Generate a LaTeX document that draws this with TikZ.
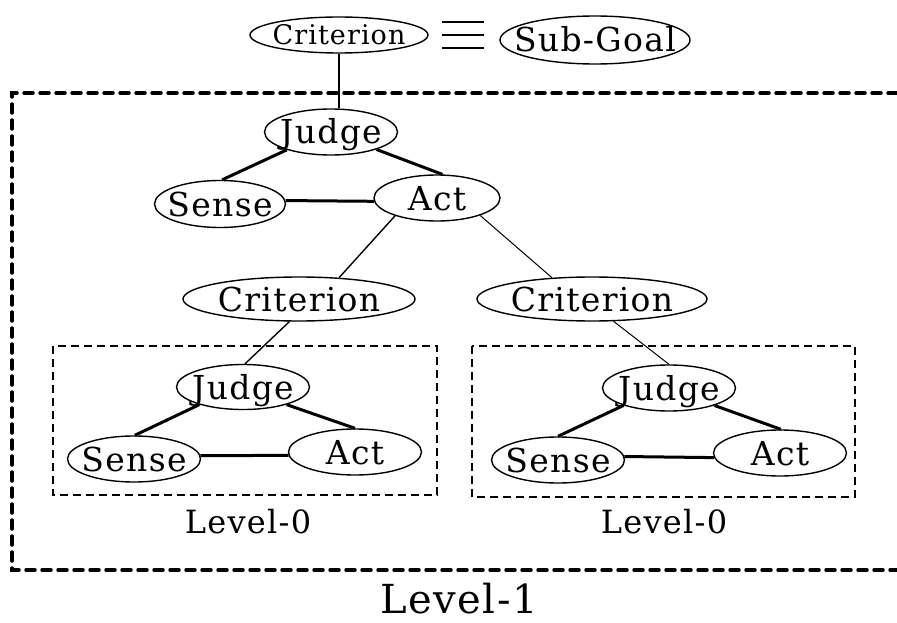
\documentclass[tikz,border=0pt]{standalone}
\usepackage{fontspec}
\setmainfont[LetterSpace=4]{DejaVu Serif}
\usetikzlibrary{shapes.geometric}
\newcommand{\ntxt}[1]{\makebox[0pt]{#1}}
\tikzset{
  ell/.style={ellipse, draw, line width=1.4pt, inner sep=0pt, text depth=0pt},
  nbig/.style={ell, minimum width=133pt, minimum height=46pt, text height=24pt, font=\fontsize{33}{33}\selectfont},
  thick edge/.style={line width=3pt},
  thin edge/.style={line width=1.4pt},
  hair edge/.style={line width=1pt},
  outerbox/.style={line width=3.5pt, dash pattern=on 9pt off 7pt, line cap=round},
  innerbox/.style={line width=2.6pt, dash pattern=on 8pt off 5pt},
  levlabel/.style={font=\fontsize{32}{32}\selectfont}
}
\begin{document}
\begin{tikzpicture}[x=1pt,y=-1pt]
\useasboundingbox (0,0) rectangle (897,623);
% top
\node[ell, minimum width=178pt, minimum height=36pt, text height=19.7pt, font=\fontsize{27}{27}\selectfont] (crit0) at (339,35) {\ntxt{Criterion}};
\node[ell, minimum width=190pt, minimum height=48pt, text height=24pt, font=\fontsize{33}{33}\selectfont] (subgoal) at (595,40) {\ntxt{Sub-Goal}};
\draw[line width=1.2pt] (442,22) -- (484,22) (442,35) -- (484,35) (442,48) -- (484,48);
% outer box
\draw[outerbox] (897,93) -- (12,93) -- (12,570) -- (897,570);
% level 1 triad
\node[nbig] (judge1) at (331,132) {\ntxt{Judge}};
\node[nbig, minimum width=131pt, minimum height=47pt] (sense1) at (220,204) {\ntxt{Sense}};
\node[nbig, minimum width=126pt] (act1) at (437,198) {\ntxt{Act}};
\draw[thin edge] (crit0.south) -- (crit0.south |- judge1.north);
\draw[thick edge] (judge1.202) -- (sense1.85);
\draw[thick edge] (judge1.339) -- (act1.77);
\draw[thick edge] (sense1.3) -- (act1.183);
% criteria
\node[nbig, minimum width=232pt, minimum height=44pt] (critL) at (299,299) {\ntxt{Criterion}};
\node[nbig, minimum width=230pt, minimum height=44pt] (critR) at (592,299) {\ntxt{Criterion}};
\draw[thin edge] (act1.203) -- (critL.28);
\draw[hair edge] (act1.338) -- (critR.152);
% left level-0
\draw[innerbox] (53,346) rectangle (437,495);
\node[nbig, minimum height=45pt] (judgeL) at (243,387) {\ntxt{Judge}};
\node[nbig] (senseL) at (134,459) {\ntxt{Sense}};
\node[nbig] (actL) at (355,452) {\ntxt{Act}};
\draw[thin edge] (critL.247) -- (judgeL.85);
\draw[thick edge] (judgeL.202) -- (senseL.88);
\draw[thick edge] (judgeL.338) -- (actL.90);
\draw[thick edge] (senseL.3) -- (actL.183);
\node[levlabel] (lev0L) at (248,522) {Level-0};
% right level-0
\draw[innerbox] (472,346) rectangle (855,497);
\node[nbig] (judgeR) at (669,388) {\ntxt{Judge}};
\node[nbig] (senseR) at (558,460) {\ntxt{Sense}};
\node[nbig] (actR) at (780,453) {\ntxt{Act}};
\draw[hair edge] (critR.314) -- (judgeR.90);
\draw[thick edge] (judgeR.201) -- (senseR.90);
\draw[thick edge] (judgeR.339) -- (actR.88);
\draw[thick edge] (senseR.3) -- (actR.184);
\node[levlabel] (lev0R) at (664,522) {Level-0};
% level 1 label
\node[font=\fontsize{40}{40}\selectfont, inner sep=0pt] (lev1) at (459,599) {Level-1};
\end{tikzpicture}
\end{document}
